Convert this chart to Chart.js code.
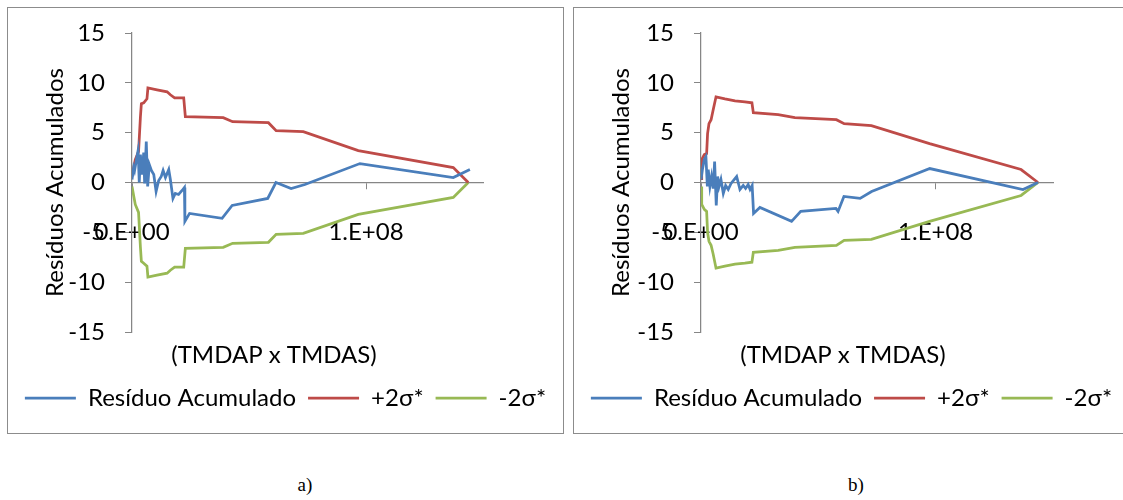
<!DOCTYPE html>
<html lang="pt">
<head>
  <meta charset="UTF-8" />
  <title>Resíduos Acumulados</title>
  <script src="https://cdn.jsdelivr.net/npm/chart.js"></script>
  <style>
    body { margin: 0; background: #fff; width: 1123px; height: 500px; overflow: hidden; position: relative; }
    .box { position: absolute; top: 7px; width: 557px; height: 427px; border: 1px solid #8c8c8c; box-sizing: border-box; background: #fff; }
    .box canvas { display: block; }
    .cap { position: absolute; top: 474px; width: 60px; text-align: center; font-family: "Liberation Serif", serif; font-size: 19px; color: #000; }
  </style>
</head>
<body>

  <div class="box" style="left:7px"><canvas id="chartA" width="555" height="425"></canvas></div>
  <div class="box" style="left:573px"><canvas id="chartB" width="555" height="425"></canvas></div>
  <div class="cap" style="left:275px">a)</div>
  <div class="cap" style="left:826px">b)</div>

  <script>
    // series names and axis texts
    const seriesNames = ['Resíduo Acumulado', '+2σ*', '-2σ*'];
    const xTitle = '(TMDAP x TMDAS)';
    const yTitle = 'Resíduos Acumulados';
    const xTickValues = [0, 1e8];
    const xTickLabels = ['0.E+00', '1.E+08'];

    // chart a) - cumulative residual
    const aResX = [0, 0.7e6, 1.1e6, 1.9e6, 2.6e6, 3.1e6, 3.6e6, 4.3e6, 5.0e6, 5.4e6, 6.1e6, 6.7e6, 7.4e6, 8.3e6, 9.3e6,
      10.3e6, 11.4e6, 12.5e6, 13.3e6, 14.3e6, 15.7e6, 16.4e6, 17.5e6, 18.5e6, 19.9e6, 21.4e6, 22.4e6, 22.6e6, 24.6e6,
      38.5e6, 42.8e6, 58.0e6, 61.5e6, 68.0e6, 73.9e6, 97.4e6, 137.3e6, 144.4e6];
    const aResY = [0.3, 1.5, 1.2, 2.3, 3.2, 0.0, 2.8, 0.8, 3.0, -0.1, 4.1, -0.4, 1.8, 1.2, 0.8,
      -0.9, 0.2, 0.6, 1.2, 0.5, 1.3, 0.3, -1.6, -1.1, -1.2, -0.8, -0.5, -3.9, -3.1,
      -3.6, -2.3, -1.6, 0.0, -0.6, -0.2, 1.9, 0.5, 1.3];
    // chart a) - +/-2 sigma limits
    const aBandX = [0, 1.4e6, 2.8e6, 3.6e6, 4.0e6, 5.0e6, 6.4e6, 6.8e6, 10.7e6, 15.0e6, 16.4e6, 18.2e6, 22.1e6, 22.8e6,
      39.0e6, 43.0e6, 58.3e6, 61.6e6, 73.2e6, 96.7e6, 137.3e6, 143.7e6];
    const aUpper = [0.6, 2.3, 3.1, 6.6, 7.9, 8.0, 8.4, 9.5, 9.3, 9.1, 8.8, 8.5, 8.5, 6.6,
      6.5, 6.1, 6.0, 5.2, 5.1, 3.2, 1.5, 0];
    const aLower = [-0.4, -2.2, -3.0, -6.5, -7.9, -8.1, -8.4, -9.5, -9.3, -9.1, -8.8, -8.5, -8.5, -6.6,
      -6.5, -6.1, -6.0, -5.2, -5.1, -3.2, -1.5, 0];

    // chart b) - cumulative residual
    const bResX = [0, 0.6e6, 1.4e6, 2.1e6, 2.7e6, 3.1e6, 3.8e6, 4.5e6, 5.2e6, 5.8e6, 6.5e6, 7.1e6, 7.7e6, 8.5e6, 9.5e6,
      10.5e6, 11.6e6, 12.8e6, 15.2e6, 16.6e6, 18.0e6, 19.0e6, 20.1e6, 20.9e6, 21.8e6, 22.4e6, 25.1e6,
      38.6e6, 42.5e6, 57.5e6, 58.4e6, 60.9e6, 67.8e6, 72.7e6, 97.5e6, 137.2e6, 143.6e6];
    const bResY = [0.3, 1.3, 2.3, 2.6, -0.4, 1.3, -0.4, 0.6, -0.6, 2.1, -2.3, 0.6, -0.4, 0.3, -1.1,
      -0.3, -0.7, -0.1, 0.6, -0.7, -0.3, -0.6, -0.2, -0.7, -0.3, -3.1, -2.5,
      -3.9, -2.9, -2.6, -2.9, -1.4, -1.6, -0.9, 1.4, -0.7, 0];
    // chart b) - +/-2 sigma limits
    const bBandX = [0, 0.3e6, 1.4e6, 2.4e6, 2.8e6, 3.4e6, 4.3e6, 5.2e6, 6.4e6, 10.2e6, 14.5e6, 18.7e6, 21.7e6, 22.3e6,
      32.9e6, 40.0e6, 57.7e6, 61.0e6, 72.6e6, 97.4e6, 136.4e6, 143.6e6];
    const bUpper = [0.4, 2.3, 2.8, 2.9, 4.9, 5.9, 6.3, 7.3, 8.6, 8.4, 8.2, 8.1, 8.0, 7.0,
      6.8, 6.5, 6.3, 5.9, 5.7, 3.9, 1.3, 0];
    const bLower = [-0.4, -2.2, -2.7, -2.9, -5.0, -5.9, -6.3, -7.2, -8.6, -8.4, -8.2, -8.1, -8.0, -7.0,
      -6.8, -6.5, -6.3, -5.8, -5.7, -3.9, -1.3, 0];

    const colors = ['#4A7EBB', '#BE4B48', '#98B954'];
    const axisGray = '#868686';
    const FONT = 'Lato';
    const FS = 24;

    Chart.defaults.font.family = FONT;
    Chart.defaults.color = '#000';

    function pts(xs, ys) {
      return xs.map((x, i) => ({ x: x, y: ys[i] }));
    }

    // Excel puts the x title a bit left of the plot centre, so draw it by hand
    const xTitlePlugin = {
      id: 'xTitleText',
      afterDraw(chart, args, opts) {
        const { ctx, chartArea } = chart;
        ctx.save();
        ctx.font = FS + 'px ' + FONT;
        ctx.fillStyle = '#000';
        ctx.textAlign = 'center';
        ctx.textBaseline = 'middle';
        ctx.fillText(xTitle, chartArea.left + opts.dx, chartArea.bottom + 23);
        ctx.restore();
      }
    };

    function makeChart(id, resX, resY, bandX, upper, lower, yWidth, rightWidth) {
      const series = [pts(resX, resY), pts(bandX, upper), pts(bandX, lower)];
      new Chart(document.getElementById(id), {
        type: 'line',
        data: {
          datasets: series.map((d, i) => ({
            label: seriesNames[i],
            data: d,
            borderColor: colors[i],
            backgroundColor: colors[i],
            borderWidth: 2.75,
            pointRadius: 0,
            tension: 0
          }))
        },
        plugins: [xTitlePlugin],
        options: {
          responsive: false,
          animation: false,
          layout: { padding: { left: 0, right: 0, top: 25, bottom: 13 } },
          plugins: {
            xTitleText: { dx: 142 },
            legend: {
              position: 'bottom',
              labels: {
                usePointStyle: true,
                pointStyle: 'line',
                pointStyleWidth: 51,
                padding: 12,
                font: { size: FS }
              }
            },
            tooltip: { enabled: false }
          },
          scales: {
            x: {
              type: 'linear',
              min: 0,
              max: 1.5e8,
              grid: { display: false, drawTicks: false },
              border: { display: false },
              ticks: { display: false },
              afterFit: s => { s.height = 42; }
            },
            x2: {
              type: 'linear',
              axis: 'x',
              position: { y: 0 },
              min: 0,
              max: 1.5e8,
              afterBuildTicks: s => { s.ticks = xTickValues.map(v => ({ value: v })); },
              ticks: {
                font: { size: FS },
                padding: 29,
                maxRotation: 0,
                callback: (v, i) => xTickLabels[i]
              },
              grid: { drawOnChartArea: false, tickLength: 6, color: axisGray },
              border: { color: axisGray, width: 1.25 }
            },
            y: {
              min: -15,
              max: 15,
              // small lineHeight keeps the label padding from pushing the plot down
              ticks: { stepSize: 5, padding: 20, font: { size: FS, lineHeight: 0.4 } },
              grid: { drawOnChartArea: false, tickLength: 7, color: axisGray },
              border: { color: axisGray, width: 1.25 },
              title: { display: true, text: yTitle, font: { size: FS }, padding: { top: 33, bottom: 4 } },
              afterFit: s => { s.width = yWidth; }
            },
            yR: {
              position: 'right',
              ticks: { display: false },
              grid: { display: false, drawTicks: false },
              border: { display: false },
              afterFit: s => { s.width = rightWidth; }
            }
          }
        }
      });
    }

    makeChart('chartA', aResX, aResY, aBandX, aUpper, aLower, 124, 80);
    makeChart('chartB', bResX, bResY, bBandX, bUpper, bLower, 127, 76);
  </script>
</body>
</html>
